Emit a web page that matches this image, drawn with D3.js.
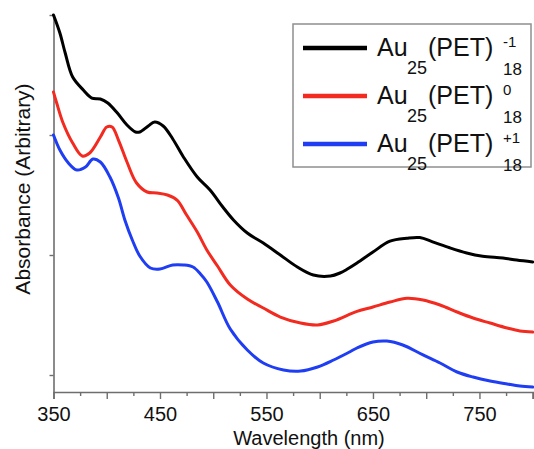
<!DOCTYPE html>
<html>
<head>
<meta charset="utf-8">
<script src="https://cdn.jsdelivr.net/npm/d3@7"></script>
<style>
  html, body { margin: 0; padding: 0; background: #fff; }
  svg { display: block; font-family: "Liberation Sans", Arial, Helvetica, sans-serif; }
</style>
</head>
<body>
<svg id="chart" width="534" height="449"></svg>
<script>
// ---- data (wavelength in nm, absorbance in arbitrary units) ----
const wlMinus = [350,356,361,368,378,386,394,401,410,419,427,431,439,445,453,462,472,485,497,509,519,532,547,563,579,594,610,619,626,635,650,666,682,694,706,722,738,753,772,785,800];
const absMinus = [4.0,3.85,3.683,3.483,3.375,3.308,3.3,3.267,3.183,3.083,3.025,3.025,3.075,3.108,3.075,2.967,2.817,2.65,2.542,2.4,2.292,2.183,2.1,2.0,1.9,1.833,1.825,1.85,1.883,1.933,2.025,2.115,2.14,2.145,2.11,2.06,2.017,1.99,1.975,1.958,1.942];

const wlNeutral = [350,353,359,368,377,384,394,400,405,411,419,428,438,447,457,466,475,485,494,504,516,532,547,563,582,598,613,635,650,666,682,697,713,729,744,760,776,788,800];
const absNeutral = [3.358,3.267,3.1,2.933,2.825,2.85,2.983,3.067,3.067,2.958,2.775,2.6,2.525,2.517,2.5,2.458,2.333,2.192,2.042,1.908,1.75,1.633,1.558,1.483,1.433,1.417,1.45,1.53,1.567,1.608,1.64,1.625,1.583,1.525,1.475,1.433,1.392,1.367,1.358];

const wlPlus = [350,356,364,372,380,387,394,403,411,417,424,431,441,450,462,472,481,488,494,504,516,532,547,566,582,598,613,628,635,650,663,678,697,713,729,744,760,776,788,800];
const absPlus = [3.0,2.875,2.767,2.708,2.733,2.8,2.775,2.65,2.475,2.292,2.125,1.992,1.892,1.883,1.917,1.917,1.9,1.842,1.775,1.608,1.383,1.208,1.1,1.042,1.033,1.067,1.125,1.192,1.225,1.275,1.283,1.25,1.167,1.1,1.025,0.983,0.95,0.925,0.908,0.9];

const xLabelTicks = [350,450,550,650,750];
const xMajorTicks = [350,400,450,500,550,600,650,700,750,800];
const xMinorTicks = [375,425,475,525,575,625,675,725,775];
const yTicks = [1,2,3,4];

const seriesNames = ["-1","0","+1"];
const seriesColors = ["#000000","#f22a1f","#1f3df2"];

// ---- layout ----
const svg = d3.select("#chart");
const x = d3.scaleLinear().domain([350, 800]).range([53.5, 532.7]);
const y = d3.scaleLinear().domain([4 - 377/120, 4]).range([392, 15]);

const series = [
  {name: seriesNames[0], color: seriesColors[0], data: wlMinus.map((w,i)=>({w, a: absMinus[i]}))},
  {name: seriesNames[1], color: seriesColors[1], data: wlNeutral.map((w,i)=>({w, a: absNeutral[i]}))},
  {name: seriesNames[2], color: seriesColors[2], data: wlPlus.map((w,i)=>({w, a: absPlus[i]}))}
];

const line = d3.line().x(d => x(d.w)).y(d => y(d.a)).curve(d3.curveCatmullRom.alpha(0.5));

// axes
const axisColor = "#6e6e6e";
const xAxisMajor = d3.axisBottom(x).tickValues(xMajorTicks).tickSize(7)
  .tickFormat(d => xLabelTicks.includes(d) ? d : "");
const gx = svg.append("g").attr("transform", "translate(0,392)").call(xAxisMajor);
gx.select(".domain").attr("stroke", axisColor).attr("stroke-width", 1.6);
gx.selectAll(".tick line").attr("stroke", axisColor).attr("stroke-width", 1.4);
gx.selectAll(".tick text").attr("fill", "#111").attr("font-size", 20)
  .attr("font-family", "Liberation Sans, Arial, sans-serif").attr("dy", 0).attr("y", 29);

const gxm = svg.append("g").attr("transform", "translate(0,392)")
  .call(d3.axisBottom(x).tickValues(xMinorTicks).tickSize(4).tickFormat(""));
gxm.select(".domain").remove();
gxm.selectAll(".tick line").attr("stroke", axisColor).attr("stroke-width", 1.4);

const gy = svg.append("g").attr("transform", "translate(53.5,0)")
  .call(d3.axisLeft(y).tickValues(yTicks).tickSize(4).tickSizeOuter(0).tickFormat(""));
gy.select(".domain").attr("stroke", axisColor).attr("stroke-width", 1.6);
gy.selectAll(".tick line").attr("stroke", axisColor).attr("stroke-width", 1.4);

// curves
svg.append("g").selectAll("path").data(series).join("path")
  .attr("d", d => line(d.data))
  .attr("fill", "none")
  .attr("stroke", d => d.color)
  .attr("stroke-width", 3)
  .attr("stroke-linejoin", "round")
  .attr("stroke-linecap", "round");

// axis titles
svg.append("text").attr("x", 309).attr("y", 444.5).attr("text-anchor", "middle")
  .attr("font-size", 20).attr("fill", "#111").text("Wavelength (nm)");
svg.append("text").attr("transform", "translate(30,189) rotate(-90)").attr("text-anchor", "middle")
  .attr("font-size", 21).attr("fill", "#111").text("Absorbance (Arbitrary)");

// legend
const lg = svg.append("g");
lg.append("rect").attr("x", 293).attr("y", 24).attr("width", 238).attr("height", 143)
  .attr("fill", "#fff").attr("stroke", "#8f8f8f").attr("stroke-width", 1.5);
const rows = lg.selectAll("g.row").data(series).join("g").attr("class", "row")
  .attr("transform", (d, i) => `translate(0,${48 + i * 48})`);
rows.append("line").attr("x1", 303).attr("x2", 367).attr("y1", 0).attr("y2", 0)
  .attr("stroke", d => d.color).attr("stroke-width", 4.5);
rows.each(function(d) {
  const g = d3.select(this);
  g.append("text").attr("x", 377).attr("y", 8).attr("font-size", 25).attr("fill", "#111").text("Au");
  g.append("text").attr("x", 407).attr("y", 26).attr("font-size", 18).attr("fill", "#111").text("25");
  g.append("text").attr("x", 428).attr("y", 8).attr("font-size", 25).attr("fill", "#111").text("(PET)");
  g.append("text").attr("x", 503).attr("y", -1).attr("font-size", 15).attr("fill", "#111").text(d.name);
  g.append("text").attr("x", 503).attr("y", 27).attr("font-size", 17).attr("fill", "#111").text("18");
});
</script>
</body>
</html>
